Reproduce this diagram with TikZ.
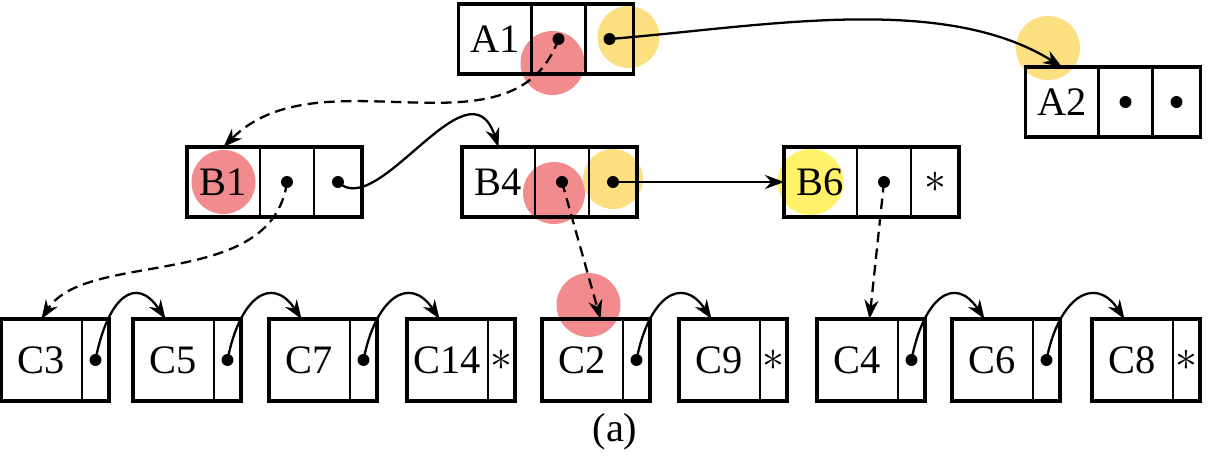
\documentclass[tikz,border=0pt]{standalone}
\usepackage{fontspec}
\setmainfont{Liberation Serif}
\usetikzlibrary{positioning, arrows.meta, fit, backgrounds}
\definecolor{rouge}{HTML}{F28B8E}
\definecolor{jaune}{HTML}{FCDF7E}
\definecolor{citron}{HTML}{FFF16A}

\begin{document}
\begin{tikzpicture}[
  x=0.02cm, y=-0.02cm,
  font=\fontsize{23}{25}\selectfont,
  case/.style={draw, line width=1.3pt, inner sep=0pt, outer sep=0pt, minimum height=1.4cm},
  point/.style={path picture={\fill (path picture bounding box.center) circle (3.4pt);}},
  cle/.style={case, minimum width=1.46cm},
  mil/.style={case, point, minimum width=1.08cm},
  der/.style={case, minimum width=0.96cm},
  feuille/.style={case, minimum width=1.62cm, minimum height=1.64cm},
  suiv/.style={case, minimum width=0.54cm, minimum height=1.64cm},
  cadre/.style={draw, line width=2.1pt, inner sep=0pt},
  fl/.style={-{Stealth[length=3.8mm, width=2.8mm]}, line width=1.3pt},
  tir/.style={fl, dash pattern=on 6pt off 3.5pt},
]
\useasboundingbox (0,0) rectangle (1215,466);
% la racine et sa voisine
\node[cle] (A1) at (495,39) {A1};
\node[mil, right=0pt of A1] (A1p) {};
\node[der, point, right=0pt of A1p] (A1q) {};
\node[cadre, fit=(A1)(A1q)] (A1f) {};
\node[cle] (A2) at (1062,102) {A2};
\node[mil, right=0pt of A2] (A2p) {};
\node[der, point, right=0pt of A2p] (A2q) {};
\node[cadre, fit=(A2)(A2q)] (A2f) {};
% le niveau intermédiaire
\node[cle] (B1) at (223.5,182) {B1};
\node[mil, right=0pt of B1] (B1p) {};
\node[der, point, right=0pt of B1p] (B1q) {};
\node[cadre, fit=(B1)(B1q)] (B1f) {};
\node[cle] (B4) at (498.5,182) {B4};
\node[mil, right=0pt of B4] (B4p) {};
\node[der, point, right=0pt of B4p] (B4q) {};
\node[cadre, fit=(B4)(B4q)] (B4f) {};
\node[cle] (B6) at (820.5,182) {B6};
\node[mil, right=0pt of B6] (B6p) {};
\node[der, right=0pt of B6p] (B6q) {$\ast$};
\node[cadre, fit=(B6)(B6q)] (B6f) {};
% les feuilles
\node[feuille] (C3) at (41.5,360) {C3};
\node[suiv, point, right=0pt of C3] (C3p) {};
\node[cadre, fit=(C3)(C3p)] (C3f) {};
\node[feuille] (C5) at (173.5,360) {C5};
\node[suiv, point, right=0pt of C5] (C5p) {};
\node[cadre, fit=(C5)(C5p)] (C5f) {};
\node[feuille] (C7) at (309.5,360) {C7};
\node[suiv, point, right=0pt of C7] (C7p) {};
\node[cadre, fit=(C7)(C7p)] (C7f) {};
\node[feuille] (C14) at (447.5,360) {C14};
\node[suiv, right=0pt of C14] (C14p) {$\ast$};
\node[cadre, fit=(C14)(C14p)] (C14f) {};
\node[feuille] (C2) at (582.5,360) {C2};
\node[suiv, point, right=0pt of C2] (C2p) {};
\node[cadre, fit=(C2)(C2p)] (C2f) {};
\node[feuille] (C9) at (719.5,360) {C9};
\node[suiv, right=0pt of C9] (C9p) {$\ast$};
\node[cadre, fit=(C9)(C9p)] (C9f) {};
\node[feuille] (C4) at (857.5,360) {C4};
\node[suiv, point, right=0pt of C4] (C4p) {};
\node[cadre, fit=(C4)(C4p)] (C4f) {};
\node[feuille] (C6) at (992.5,360) {C6};
\node[suiv, point, right=0pt of C6] (C6p) {};
\node[cadre, fit=(C6)(C6p)] (C6f) {};
\node[feuille] (C8) at (1132.5,360) {C8};
\node[suiv, right=0pt of C8] (C8p) {$\ast$};
\node[cadre, fit=(C8)(C8p)] (C8f) {};
\node (legende) at (615,432) {(a)};
% les surlignages
\begin{scope}[on background layer]
\fill[rouge] ([shift={(-6,24)}]A1p.center) circle (0.64cm);
\fill[jaune] ([shift={(19,-2)}]A1q.center) circle (0.62cm);
\fill[jaune] ([shift={(-14,-19)}]A2.north) circle (0.64cm);
\fill[rouge] (B1.center) circle (0.64cm);
\fill[rouge] ([shift={(-8,11)}]B4p.center) circle (0.62cm);
\fill[jaune] ([shift={(0,-3)}]B4q.center) circle (0.6cm);
\fill[citron] ([shift={(-10,0)}]B6.center) circle (0.66cm);
\fill[rouge] ([shift={(6,-14)}]C2.north) circle (0.64cm);
\end{scope}
% pointeurs
\draw[tir] (A1p.center) .. controls +(-45,125) and +(97,-97) .. (B1.north);
\draw[fl] (A1q.center) .. controls +(150,-12) and +(-120,-75) .. (A2.north);
\draw[fl] (B1q.center) .. controls +(40,40) and +(-30,-90) .. (B4.north);
\draw[tir] (B1p.center) .. controls +(-15,110) and +(45,-70) .. (C3.north);
\draw[fl] (B4q.center) -- (B6.west);
\draw[tir] (B4p.center) -- ([xshift=0.36cm]C2.north);
\draw[tir] (B6p.center) -- ([xshift=0.24cm]C4.north);
% chaînage des feuilles
\draw[fl] (C3p.center) .. controls +(12,-62) and +(-30,-45) .. ([xshift=-0.16cm]C5.north);
\draw[fl] (C5p.center) .. controls +(12,-62) and +(-30,-45) .. ([xshift=-0.16cm]C7.north);
\draw[fl] (C7p.center) .. controls +(12,-62) and +(-30,-45) .. ([xshift=-0.16cm]C14.north);
\draw[fl] (C2p.center) .. controls +(12,-62) and +(-30,-45) .. ([xshift=-0.16cm]C9.north);
\draw[fl] (C4p.center) .. controls +(12,-62) and +(-30,-45) .. ([xshift=-0.16cm]C6.north);
\draw[fl] (C6p.center) .. controls +(12,-62) and +(-30,-45) .. ([xshift=-0.16cm]C8.north);
\end{tikzpicture}
\end{document}
